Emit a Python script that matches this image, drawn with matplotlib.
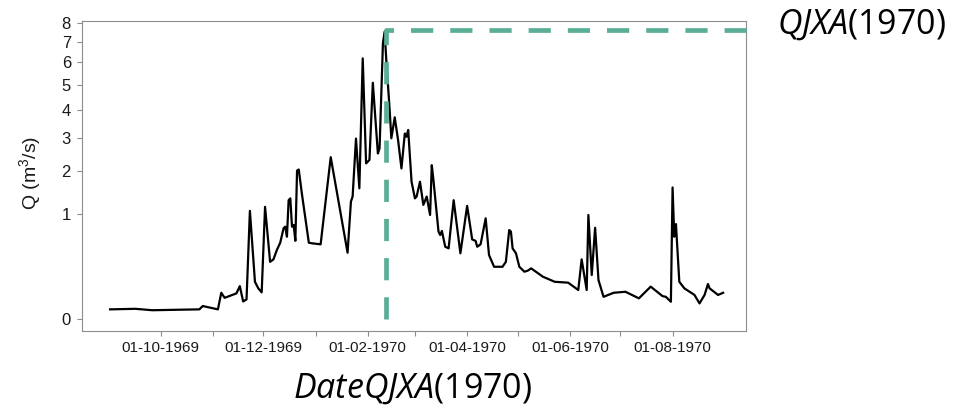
import datetime as dt
import numpy as np
import matplotlib
matplotlib.use('Agg')
import matplotlib.pyplot as plt
import matplotlib.dates as mdates

dates = ['1969-09-01', '1969-09-16', '1969-09-26', '1969-10-24', '1969-10-26',
         '1969-11-04', '1969-11-06', '1969-11-08', '1969-11-15', '1969-11-17',
         '1969-11-19', '1969-11-21', '1969-11-23', '1969-11-26', '1969-11-28',
         '1969-11-30', '1969-12-02', '1969-12-05', '1969-12-07', '1969-12-09',
         '1969-12-11', '1969-12-13', '1969-12-14', '1969-12-15', '1969-12-16',
         '1969-12-17', '1969-12-18', '1969-12-19', '1969-12-20', '1969-12-21',
         '1969-12-22', '1969-12-24', '1969-12-28', '1969-12-30', '1970-01-04',
         '1970-01-10', '1970-01-20', '1970-01-22', '1970-01-23', '1970-01-25',
         '1970-01-27', '1970-01-29', '1970-01-31', '1970-02-02', '1970-02-04',
         '1970-02-07', '1970-02-08', '1970-02-10', '1970-02-11', '1970-02-12',
         '1970-02-14', '1970-02-15', '1970-02-17', '1970-02-19', '1970-02-21',
         '1970-02-23', '1970-02-24', '1970-02-25', '1970-02-27', '1970-03-01',
         '1970-03-02', '1970-03-04', '1970-03-06', '1970-03-08', '1970-03-10',
         '1970-03-11', '1970-03-12', '1970-03-15', '1970-03-16', '1970-03-17',
         '1970-03-19', '1970-03-21', '1970-03-24', '1970-03-28', '1970-04-01',
         '1970-04-04', '1970-04-06', '1970-04-07', '1970-04-09', '1970-04-12',
         '1970-04-14', '1970-04-17', '1970-04-22', '1970-04-24', '1970-04-26',
         '1970-04-27', '1970-04-28', '1970-04-30', '1970-05-02', '1970-05-05',
         '1970-05-07', '1970-05-09', '1970-05-16', '1970-05-23', '1970-05-31',
         '1970-06-06', '1970-06-08', '1970-06-11', '1970-06-12', '1970-06-14',
         '1970-06-16', '1970-06-18', '1970-06-21', '1970-06-27', '1970-07-04',
         '1970-07-12', '1970-07-19', '1970-07-26', '1970-07-28', '1970-07-31',
         '1970-08-01', '1970-08-02', '1970-08-03', '1970-08-05', '1970-08-08',
         '1970-08-14', '1970-08-17', '1970-08-20', '1970-08-22', '1970-08-23',
         '1970-08-28', '1970-08-31']
flow = [0.009, 0.010, 0.0075, 0.009, 0.016,
        0.009, 0.064, 0.042, 0.061, 0.10,
        0.029, 0.036, 1.07, 0.128, 0.087,
        0.066, 1.15, 0.30, 0.327, 0.436,
        0.533, 0.753, 0.78, 0.62, 1.29,
        1.33, 0.78, 0.81, 0.56, 2.01,
        2.04, 1.40, 0.533, 0.525, 0.511,
        2.39, 0.403, 1.26, 1.37, 2.97,
        1.56, 6.19, 2.21, 2.31, 5.09,
        2.50, 2.66, 6.92, 7.52, 6.11,
        3.98, 2.98, 3.71, 2.92, 2.07,
        3.14, 3.03, 3.26, 1.72, 1.33,
        1.37, 1.72, 1.19, 1.37, 0.99,
        2.16, 1.76, 0.70, 0.646, 0.71,
        0.479, 0.458, 1.29, 0.396, 1.17,
        0.58, 0.56, 0.479, 0.511, 0.927,
        0.376, 0.251, 0.251, 0.30, 0.725,
        0.70, 0.458, 0.396, 0.251, 0.206,
        0.215, 0.236, 0.165, 0.128, 0.122,
        0.078, 0.327, 0.078, 0.99, 0.178,
        0.762, 0.14, 0.046, 0.064, 0.069,
        0.040, 0.097, 0.049, 0.046, 0.028,
        1.58, 0.62, 0.825, 0.128, 0.087,
        0.054, 0.023, 0.054, 0.113, 0.087,
        0.054, 0.064]

peak_date = '1970-02-12'
peak_flow = 7.6

tick_dates = ['1969-10-01', '1969-11-01', '1969-12-01', '1970-01-01', '1970-02-01',
              '1970-03-01', '1970-04-01', '1970-05-01', '1970-06-01', '1970-07-01',
              '1970-08-01']
tick_labels = ['01-10-1969', '', '01-12-1969', '', '01-02-1970', '',
               '01-04-1970', '', '01-06-1970', '', '01-08-1970']
y_ticks = [0, 1, 2, 3, 4, 5, 6, 7, 8]

plt.rcParams['mathtext.fontset'] = 'custom'
plt.rcParams['mathtext.it'] = 'Open Sans:italic'
plt.rcParams['mathtext.rm'] = 'Liberation Sans'

W, H = 964, 407
fig = plt.figure(figsize=(W / 100, H / 100), dpi=100)
ax = fig.add_axes([82 / W, 1 - 331 / H, (746 - 82) / W, (331 - 21) / H])

def to_num(s):
    return mdates.date2num(dt.datetime.strptime(s, '%Y-%m-%d'))

x = [to_num(d) for d in dates]
ax.plot(x, np.sqrt(flow), color='black', linewidth=1.6, zorder=3)

# peak marker lines (dashed, runs out past the frame on the right)
origin = to_num('1969-10-01')
px = to_num(peak_date)
green = '#5aae96'
ax.plot([px, px, origin + 349.5], [0, np.sqrt(peak_flow), np.sqrt(peak_flow)],
        color=green, linewidth=3.4, dashes=(4.7, 3.6), solid_capstyle='butt',
        dash_capstyle='butt', clip_on=False, zorder=4)

ax.set_xlim(origin - 46.7, origin + 347.6)
ax.set_ylim(-0.1115, np.sqrt(8) + 0.016)

ax.set_xticks([to_num(d) for d in tick_dates])
ax.set_xticklabels(tick_labels)
ax.set_yticks(np.sqrt(y_ticks))
ax.set_yticklabels([str(v) for v in y_ticks])

for s in ax.spines.values():
    s.set_color('#8c8c8c')
    s.set_linewidth(0.8)
ax.tick_params(axis='both', color='#8c8c8c', length=3.5, width=0.8,
               labelsize=11, labelcolor='#1a1a1a')
ax.tick_params(axis='x', pad=4)
ax.tick_params(axis='y', pad=4.5, labelsize=12)
for lab in ax.get_xticklabels() + ax.get_yticklabels():
    lab.set_family('Liberation Sans')

fig.text(30 / W, 1 - 173 / H, r'Q (m$^{3}$/s)', rotation=90, ha='center', va='center',
         fontsize=14, family='Liberation Sans', color='#1a1a1a')

fig.text(777 / W, 1 - 25 / H, r'$\mathit{QJXA}$(1970)', ha='left', va='center',
         fontsize=24.5, family='Open Sans')
fig.text(413 / W, 1 - 389 / H, r'$\mathit{DateQJXA}$(1970)', ha='center', va='center',
         fontsize=24.5, family='Open Sans')

fig.savefig('out.png', dpi=100)
